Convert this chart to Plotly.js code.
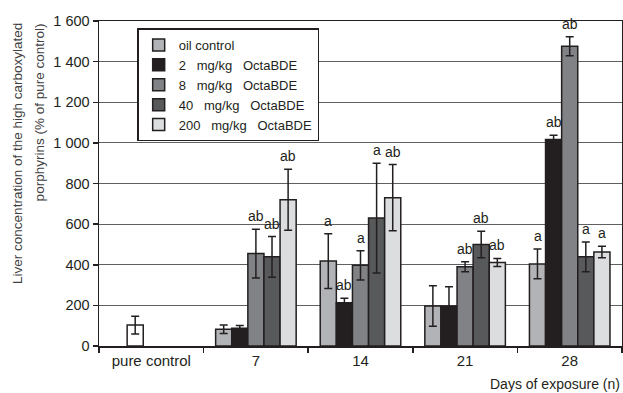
<!DOCTYPE html>
<html>
<head>
<meta charset="utf-8">
<script src="https://cdn.plot.ly/plotly-3.0.1.min.js"></script>
<style>html,body{margin:0;padding:0;background:#fff;}#chart{width:623px;height:393px;}</style>
</head>
<body>
<div id="chart"></div>
<script>
// ---- data ----
const categories = ['pure control', '7', '14', '21', '28'];
const seriesNames = ['oil control', '2\u00a0\u00a0 mg/kg\u00a0\u00a0 OctaBDE', '8\u00a0\u00a0 mg/kg\u00a0\u00a0 OctaBDE', '40\u00a0\u00a0 mg/kg\u00a0\u00a0 OctaBDE', '200\u00a0\u00a0 mg/kg\u00a0\u00a0 OctaBDE'];
const pureControl = [103];
const pureControlErr = [44];
const oilControl = [null, 82, 418, 197, 404];
const oilControlErr = [null, 21, 135, 100, 73];
const mg2 = [null, 88, 213, 197, 1017];
const mg2Err = [null, 13, 22, 95, 20];
const mg8 = [null, 455, 397, 390, 1476];
const mg8Err = [null, 120, 72, 25, 47];
const mg40 = [null, 439, 630, 500, 439];
const mg40Err = [null, 100, 270, 65, 73];
const mg200 = [null, 720, 730, 411, 463];
const mg200Err = [null, 150, 163, 20, 28];
const oilLabels = ['', '', 'a', '', 'a'];
const mg2Labels = ['', '', 'ab', '', 'ab'];
const mg8Labels = ['', 'ab', 'a', 'ab', 'ab'];
const mg40Labels = ['', 'ab', 'a', 'ab', 'a'];
const mg200Labels = ['', 'ab', 'ab', 'ab', 'a'];
const yTickVals = [0, 200, 400, 600, 800, 1000, 1200, 1400, 1600];
const yTickText = ['0', '200', '400', '600', '800', '1 000', '1 200', '1 400', '1 600'];
const yTitleLines = ['Liver concentration of the high carboxylated', 'porphyrins (% of pure control)'];
const xTitle = 'Days of exposure (n)';

// ---- styles ----
const FONT = '"Liberation Sans", Arial, sans-serif';
const INK = '#231f20';
const colors = ['#b1b3b6', '#231f20', '#808285', '#58595b', '#dcddde'];

const values = [oilControl, mg2, mg8, mg40, mg200];
const errs = [oilControlErr, mg2Err, mg8Err, mg40Err, mg200Err];
const labels = [oilLabels, mg2Labels, mg8Labels, mg40Labels, mg200Labels];

const traces = values.map((v, i) => ({
  type: 'bar',
  name: seriesNames[i],
  x: categories,
  y: v,
  offsetgroup: String(i),
  marker: {color: colors[i], line: {color: INK, width: 1.5}},
  error_y: {type: 'data', array: errs[i], visible: true, color: INK, thickness: 1.5, width: 4},
  hoverinfo: 'skip'
}));
traces.push({
  type: 'bar',
  name: 'pure control',
  x: [categories[0]],
  y: pureControl,
  offsetgroup: '1',
  showlegend: false,
  marker: {color: '#ffffff', line: {color: INK, width: 1.5}},
  error_y: {type: 'data', array: pureControlErr, visible: true, color: INK, thickness: 1.5, width: 4},
  hoverinfo: 'skip'
});

const slotWidthPx = 16.1;
const annotations = [];
labels.forEach((lab, i) => {
  lab.forEach((t, j) => {
    if (!t) return;
    annotations.push({
      x: j, y: values[i][j] + errs[i][j], xref: 'x', yref: 'y',
      text: t, showarrow: false, xshift: (i - 2) * slotWidthPx, yshift: 13,
      yanchor: 'middle', xanchor: 'center',
      font: {family: FONT, size: 14, color: INK}
    });
  });
});
annotations.push({
  x: 1.0, y: -0.087, xref: 'paper', yref: 'paper', xanchor: 'right', yanchor: 'top',
  text: xTitle, showarrow: false,
  font: {family: FONT, size: 14, color: INK}
});
// y-axis title, two rotated lines ending at the top of the plot
[-0.156, -0.114].forEach((px, k) => {
  annotations.push({
    x: px, y: 1.0, xref: 'paper', yref: 'paper', xanchor: 'center', yanchor: 'top',
    text: yTitleLines[k], textangle: -90, showarrow: false,
    font: {family: FONT, size: 13.5, color: '#414042'}
  });
});

const layout = {
  width: 623, height: 393,
  margin: {l: 99, r: 1, t: 21, b: 47},
  paper_bgcolor: '#fff', plot_bgcolor: '#fff',
  barmode: 'group', bargap: 0.23, bargroupgap: 0,
  font: {family: FONT, size: 14, color: INK},
  showlegend: true,
  legend: {
    x: 0.073, y: 0.977, xanchor: 'left', yanchor: 'top',
    bgcolor: '#fff', bordercolor: INK, borderwidth: 1.5,
    font: {family: FONT, size: 13, color: INK},
    tracegroupgap: 0, itemwidth: 30
  },
  xaxis: {
    type: 'category', categoryorder: 'array', categoryarray: categories,
    showline: true, linecolor: INK, linewidth: 1.5, mirror: true,
    ticks: 'outside', tickson: 'boundaries', ticklen: 5, tickcolor: INK, tickwidth: 1.5,
    showgrid: false, tickfont: {family: FONT, size: 15, color: INK}
  },
  yaxis: {
    range: [0, 1600], tickvals: yTickVals, ticktext: yTickText,
    showline: true, linecolor: INK, linewidth: 1.5, mirror: true,
    ticks: 'outside', ticklen: 5, tickcolor: INK, tickwidth: 1.5,
    showgrid: true, gridcolor: '#5f6062', gridwidth: 1, zeroline: false,
    tickfont: {family: FONT, size: 14.5, color: INK}
  },
  annotations: annotations
};

Plotly.newPlot('chart', traces, layout, {displayModeBar: false, staticPlot: true});
</script>
</body>
</html>
